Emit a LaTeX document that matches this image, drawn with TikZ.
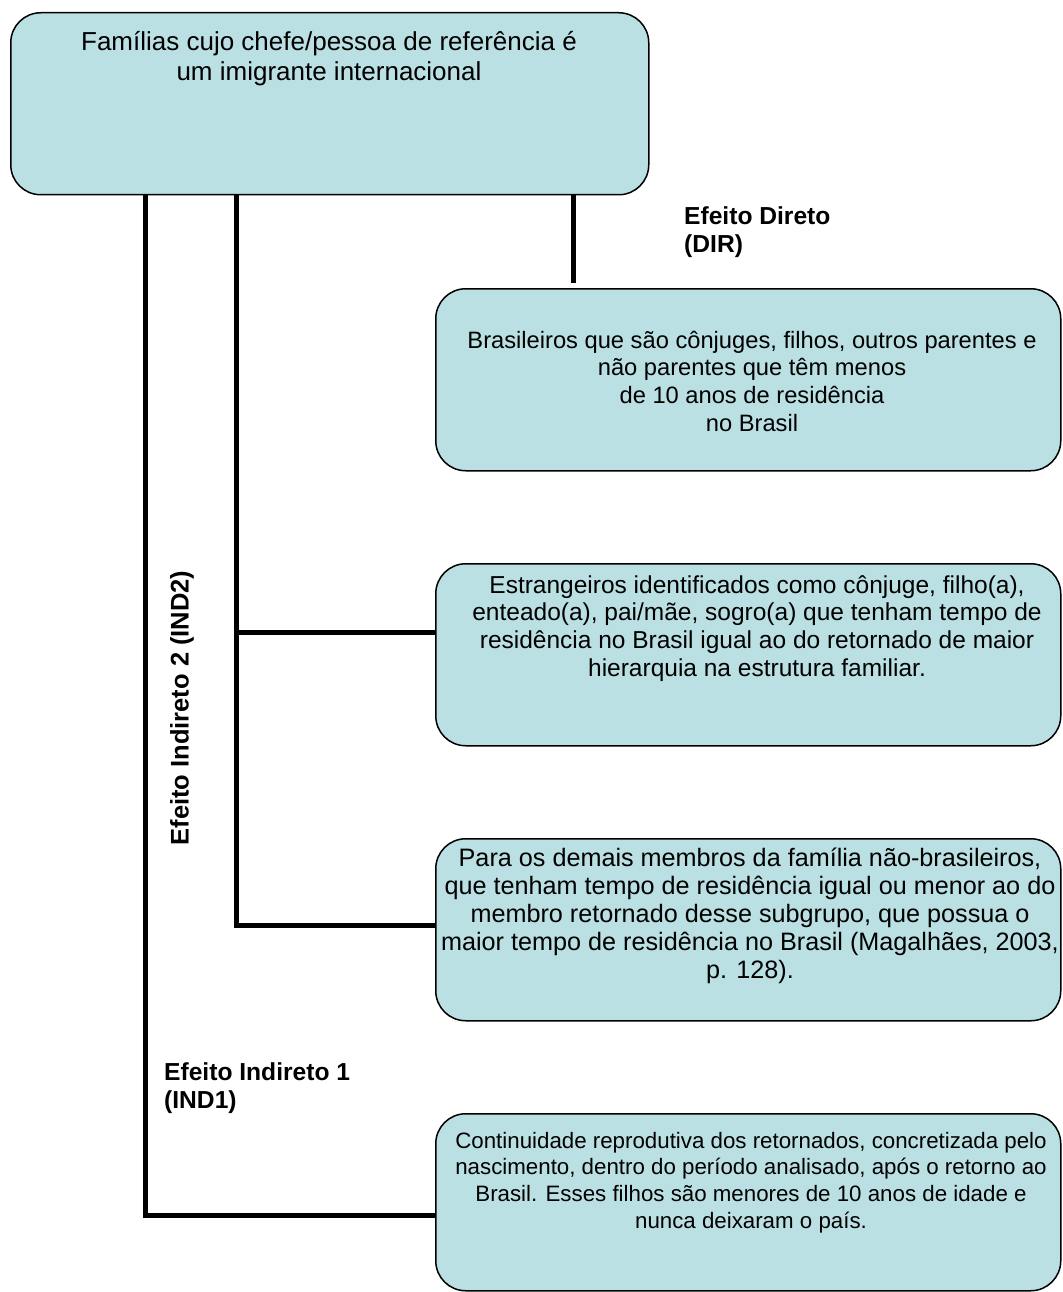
\documentclass[tikz,border=0pt]{standalone}
\usepackage{fontspec}
\setmainfont{Liberation Sans}
\definecolor{boxfill}{RGB}{187,224,227}
\begin{document}
\begin{tikzpicture}[x=1pt,y=-1pt,
  box/.style={draw=black, line width=1.5pt, fill=boxfill, rounded corners=30pt,
    inner sep=0pt, anchor=north west, minimum width=625pt, minimum height=182pt},
  conn/.style={line width=5pt, line join=miter, line cap=butt},
  txt/.style={inner sep=0pt, anchor=base},
  lbl/.style={inner sep=0pt, anchor=base west, font=\bfseries\fontsize{24.6}{28.5}\selectfont}]
\useasboundingbox (0,0) rectangle (1062,1292);

% boxes
\node[box, minimum width=638pt, minimum height=182pt] (top) at (10,12) {};
\node[box] (dir) at (435,288) {};
\node[box] (b2) at (435,563) {};
\node[box] (b3) at (435,838) {};
\node[box, minimum height=177pt] (b4) at (435,1113) {};

% box texts
\node[txt, font=\fontsize{26}{30}\selectfont] (t0) at (329,51)
  {\begin{tabular}[t]{@{}c@{}}Famílias cujo chefe/pessoa de referência é\\um imigrante internacional\end{tabular}};
\node[txt, font=\fontsize{23.7}{27.7}\selectfont] (t1) at (752,348)
  {\begin{tabular}[t]{@{}c@{}}Brasileiros que são cônjuges, filhos, outros parentes e\\não parentes que têm menos\\de 10 anos de residência\\no Brasil\end{tabular}};
\node[txt, font=\fontsize{24.5}{27.7}\selectfont] (t2) at (757,593)
  {\begin{tabular}[t]{@{}c@{}}Estrangeiros identificados como cônjuge, filho(a),\\enteado(a), pai/mãe, sogro(a) que tenham tempo de\\residência no Brasil igual ao do retornado de maior\\hierarquia na estrutura familiar.\end{tabular}};
\node[txt, font=\fontsize{25.2}{28}\selectfont] (t3) at (750,866)
  {\begin{tabular}[t]{@{}c@{}}Para os demais membros da família não-brasileiros,\\que tenham tempo de residência igual ou menor ao do\\membro retornado desse subgrupo, que possua o\\maior tempo de residência no Brasil (Magalhães, 2003,\\p. 128).\end{tabular}};
\node[txt, font=\fontsize{22.3}{26.7}\selectfont] (t4) at (751,1148)
  {\begin{tabular}[t]{@{}c@{}}Continuidade reprodutiva dos retornados, concretizada pelo\\nascimento, dentro do período analisado, após o retorno ao\\Brasil. Esses filhos são menores de 10 anos de idade e\\nunca deixaram o país.\end{tabular}};

% labels
\node[lbl] (ldir) at (684,224) {\begin{tabular}[t]{@{}l@{}}Efeito Direto\\(DIR)\end{tabular}};
\node[lbl] (lind1) at (164,1080) {\begin{tabular}[t]{@{}l@{}}Efeito Indireto 1\\(IND1)\end{tabular}};
\node[inner sep=0pt, anchor=base, rotate=90, font=\bfseries\fontsize{25.5}{29}\selectfont] (lind2) at (188.5,708) {Efeito Indireto 2 (IND2)};

% connector helpers
\coordinate (xd) at (573,0);
\coordinate (x1) at (145.5,0);
\coordinate (x2) at (236,0);
\coordinate (y2) at (0,632);
\coordinate (y3) at (0,925);
\coordinate (y4) at (0,1215);

% connectors
\draw[conn, shorten >=5pt] (top.south -| xd) -- (dir.north -| xd);
\draw[conn] (top.south -| x2) |- (b3.west |- y3);
\draw[conn] (x2 |- y2) -- (b2.west |- y2);
\draw[conn] (top.south -| x1) |- (b4.west |- y4);
\end{tikzpicture}
\end{document}
